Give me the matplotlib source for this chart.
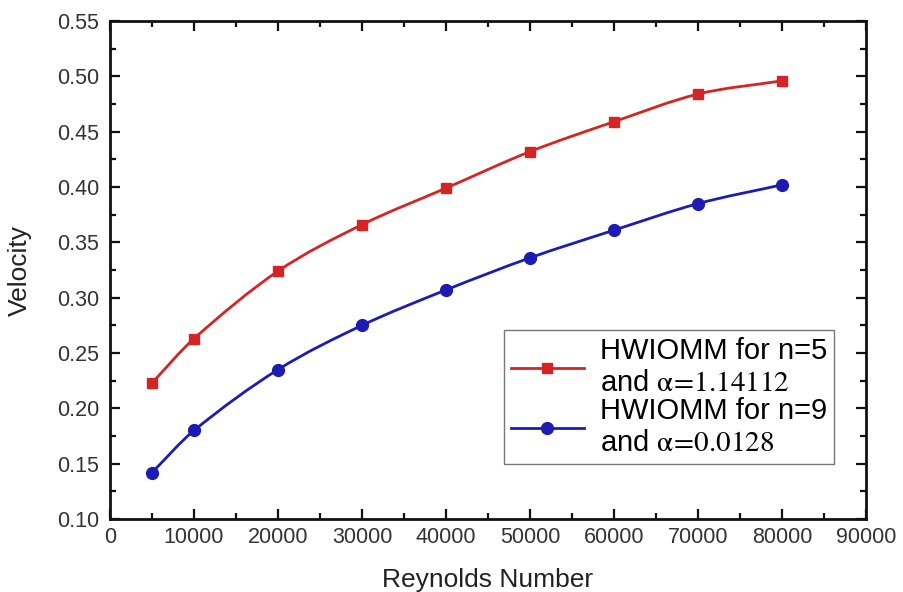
import matplotlib
matplotlib.use("Agg")
import matplotlib.pyplot as plt
import numpy as np
from matplotlib.ticker import MultipleLocator, FormatStrFormatter
from matplotlib.path import Path
from matplotlib.patches import PathPatch
from matplotlib.lines import Line2D

plt.rcParams['font.family'] = ['Liberation Sans', 'DejaVu Sans']
plt.rcParams['mathtext.fontset'] = 'stix'

reynolds = [5000, 10000, 20000, 30000, 40000, 50000, 60000, 70000, 80000]
vel_n5 = [0.223, 0.263, 0.324, 0.366, 0.399, 0.432, 0.459, 0.484, 0.496]
vel_n9 = [0.142, 0.180, 0.235, 0.275, 0.307, 0.336, 0.361, 0.385, 0.402]
label_n5 = "HWIOMM for n=5\nand $\\mathrm{\\alpha}\\!=\\!\\mathrm{1.14112}$"
label_n9 = "HWIOMM for n=9\nand $\\mathrm{\\alpha}\\!=\\!\\mathrm{0.0128}$"

red = '#d42525'
blue = '#1c1cb4'


def smooth_path(x, y):
    # cubic Bezier curve through the data points (slope-based tangents)
    x = np.asarray(x, float)
    y = np.asarray(y, float)
    n = len(x)
    m = np.zeros(n)
    for i in range(n):
        a = max(i - 1, 0)
        b = min(i + 1, n - 1)
        m[i] = (y[b] - y[a]) / (x[b] - x[a])
    verts = [(x[0], y[0])]
    codes = [Path.MOVETO]
    for i in range(n - 1):
        h = x[i + 1] - x[i]
        verts += [(x[i] + h / 3, y[i] + m[i] * h / 3),
                  (x[i + 1] - h / 3, y[i + 1] - m[i + 1] * h / 3),
                  (x[i + 1], y[i + 1])]
        codes += [Path.CURVE4] * 3
    return Path(verts, codes)


fig = plt.figure(figsize=(9.04, 5.92), dpi=100)
ax = fig.add_axes([0.1217, 0.1233, 0.8363, 0.8412])

for xs, ys, col in [(reynolds, vel_n5, red), (reynolds, vel_n9, blue)]:
    ax.add_patch(PathPatch(smooth_path(xs, ys), facecolor='none', edgecolor=col, lw=2.0, zorder=2))
ax.plot(reynolds, vel_n5, ls='none', color=red, marker='s', markersize=7.5, zorder=3)
ax.plot(reynolds, vel_n9, ls='none', color=blue, marker='o', markersize=8.5, zorder=3)

handles = [Line2D([], [], color=red, lw=2.0, marker='s', markersize=7.5),
           Line2D([], [], color=blue, lw=2.0, marker='o', markersize=8.5)]

ax.set_xlim(0, 90000)
ax.set_ylim(0.10, 0.55)
ax.xaxis.set_major_locator(MultipleLocator(10000))
ax.xaxis.set_minor_locator(MultipleLocator(5000))
ax.yaxis.set_major_locator(MultipleLocator(0.05))
ax.yaxis.set_minor_locator(MultipleLocator(0.025))
ax.yaxis.set_major_formatter(FormatStrFormatter('%.2f'))
ax.tick_params(which='both', direction='in', top=True, right=True, width=1.6,
               labelsize=15.5, labelcolor='#333333', color='#111111')
ax.tick_params(axis='y', pad=8)
ax.tick_params(axis='x', pad=6)
ax.tick_params(which='major', length=7)
ax.tick_params(which='minor', length=4)
for s in ax.spines.values():
    s.set_linewidth(2.0)
    s.set_color('#111111')
ax.set_xlabel('Reynolds Number', fontsize=19, color='#222222', labelpad=14)
ax.set_ylabel('Velocity', fontsize=19, color='#222222', labelpad=18)

leg = ax.legend(handles, [label_n5, label_n9], loc='lower right', bbox_to_anchor=(0.957, 0.111),
                fontsize=21, frameon=True, fancybox=False, edgecolor='#555555',
                handlelength=2.5, labelspacing=0.0, borderpad=0.22, handletextpad=0.55,
                borderaxespad=0)
leg.get_frame().set_linewidth(1.0)

fig.savefig('out.png', dpi=100)
